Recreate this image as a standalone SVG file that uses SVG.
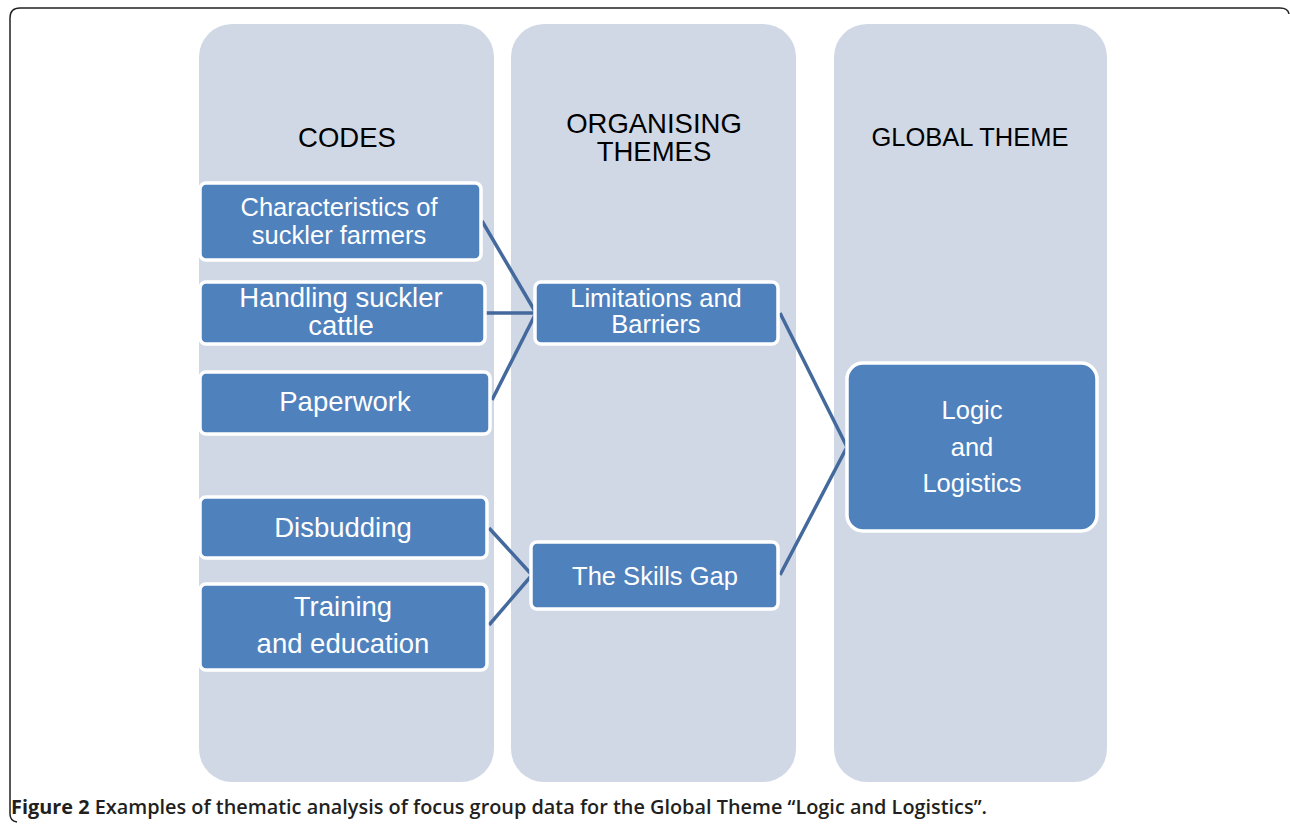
<svg xmlns="http://www.w3.org/2000/svg" width="1290" height="827" viewBox="0 0 1290 827">
<style>
.col{fill:#D0D8E6}
.node rect{fill:#4F81BD;stroke:#FFFFFF;stroke-width:3.5}
.nt{font-family:"Liberation Sans",Arial,sans-serif;font-size:27.5px;fill:#FFFFFF;text-anchor:middle}
.nm{font-size:25.5px}
.nc{font-size:25.5px}
.hd{font-family:"Liberation Sans",Arial,sans-serif;font-size:27.5px;fill:#000000;text-anchor:middle}
.hs{font-size:25.5px}
.conn{stroke:#44699C;stroke-width:3.5;fill:none;stroke-linejoin:miter}
</style>
<rect width="1290" height="827" fill="#FFFFFF"/>
<path d="M 17 822 Q 10 821 10 814 L 10 18 Q 10 8 20 8 L 1280 8 Q 1288 8 1289 14" fill="none" stroke="#222" stroke-width="1.5"/>
<g id="columns">
<rect class="col" x="199" y="24" width="295" height="758" rx="33"/>
<rect class="col" x="511" y="24" width="285" height="758" rx="33"/>
<rect class="col" x="834" y="24" width="273" height="758" rx="33"/>
<text class="hd" x="347" y="147">CODES</text>
<text class="hd" x="654" y="133">ORGANISING</text>
<text class="hd" x="654" y="161">THEMES</text>
<text class="hd hs" x="970" y="146">GLOBAL THEME</text>
</g>
<g id="connectors">
<path class="conn" d="M 482 221 L 536 313"/>
<path class="conn" d="M 486 313 L 536 313"/>
<path class="conn" d="M 492 400 L 536 313"/>
<path class="conn" d="M 489 528 L 532 575"/>
<path class="conn" d="M 489 625 L 532 575"/>
<path class="conn" d="M 780 313 L 847 447 L 780 575"/>
</g>
<g id="n-characteristics" class="node">
<rect x="200" y="183" width="281" height="77" rx="6"/>
<text class="nt nc" x="339" y="216">Characteristics of</text>
<text class="nt nc" x="339" y="244">suckler farmers</text>
</g>
<g id="n-handling" class="node">
<rect x="200" y="282" width="285" height="62" rx="6"/>
<text class="nt" x="341" y="307">Handling suckler</text>
<text class="nt" x="341" y="335">cattle</text>
</g>
<g id="n-paperwork" class="node">
<rect x="200" y="372" width="290" height="62" rx="6"/>
<text class="nt" x="345" y="411">Paperwork</text>
</g>
<g id="n-disbudding" class="node">
<rect x="200" y="497" width="287" height="61" rx="6"/>
<text class="nt" x="343" y="537">Disbudding</text>
</g>
<g id="n-training" class="node">
<rect x="200" y="584" width="287" height="86" rx="6"/>
<text class="nt" x="343" y="616">Training</text>
<text class="nt" x="343" y="653">and education</text>
</g>
<g id="n-limitations" class="node">
<rect x="535" y="282" width="243" height="62" rx="6"/>
<text class="nt nm" x="656" y="307">Limitations and</text>
<text class="nt nm" x="656" y="333">Barriers</text>
</g>
<g id="n-skills" class="node">
<rect x="531" y="542" width="247" height="67" rx="6"/>
<text class="nt nm" x="655" y="585">The Skills Gap</text>
</g>
<g id="n-logic" class="node">
<rect x="847" y="363" width="250" height="168" rx="16"/>
<text class="nt nm" x="972" y="419">Logic</text>
<text class="nt nm" x="972" y="456">and</text>
<text class="nt nm" x="972" y="492">Logistics</text>
</g>
<text x="11" y="814" font-family="'Open Sans','Liberation Sans',sans-serif" font-size="19" font-weight="600" fill="#231F20" textLength="976" lengthAdjust="spacingAndGlyphs"><tspan font-weight="700">Figure 2</tspan> Examples of thematic analysis of focus group data for the Global Theme “Logic and Logistics”.</text>
</svg>
